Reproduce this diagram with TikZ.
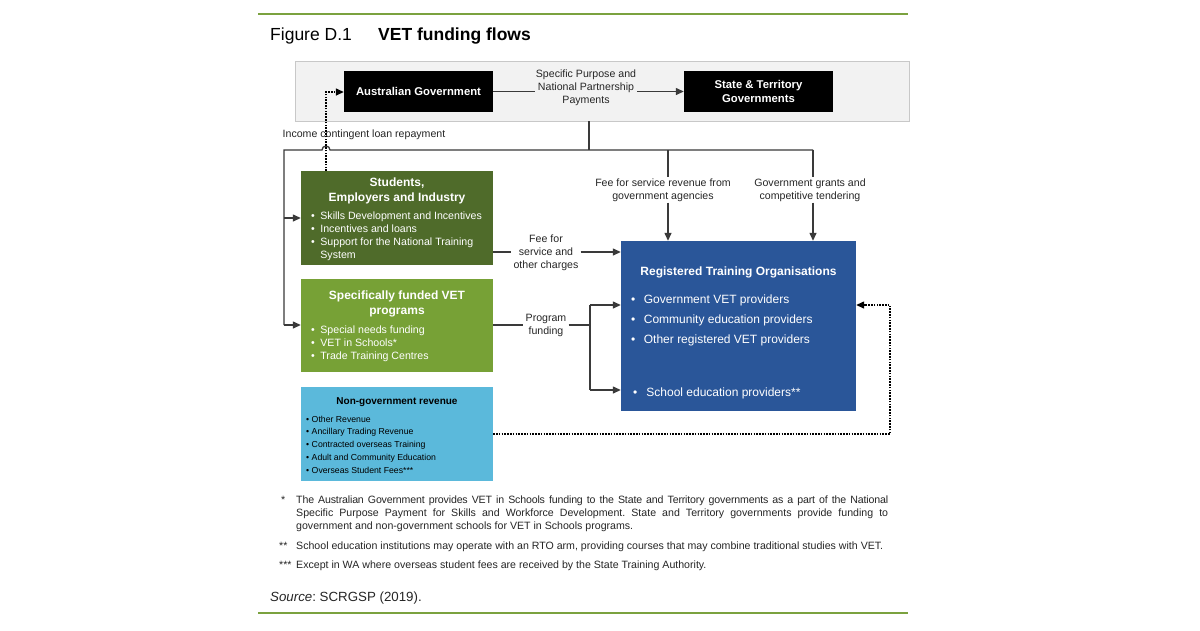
\documentclass[tikz,border=0pt]{standalone}
\usepackage{fontspec}
\setmainfont{Liberation Sans}
\usetikzlibrary{arrows.meta}
\frenchspacing
\definecolor{linec}{HTML}{3A3A3A}
\definecolor{rule}{HTML}{7BA23F}
\definecolor{greybg}{HTML}{F2F2F2}
\definecolor{greyln}{HTML}{C8C8C8}
\definecolor{dkgreen}{HTML}{4F6B2A}
\definecolor{ltgreen}{HTML}{77A136}
\definecolor{ltblue}{HTML}{5BB9DB}
\definecolor{rtoblue}{HTML}{2A5699}
\begin{document}
\begin{tikzpicture}[x=1pt,y=-1pt,
  blk/.style={fill=black, text=white, font=\fontsize{11.3}{14}\selectfont\bfseries, minimum width=149pt, minimum height=41pt, inner sep=0pt, align=center},
  boxx/.style={inner sep=0pt, draw=none},
  conn/.style={draw=linec, line width=1.3pt},
  arr/.style={conn, -{Triangle[length=8pt,width=7pt]}},
  dotl/.style={draw=black, line width=1.4pt, dash pattern=on 1.6pt off 1.2pt},
  darr/.style={dotl, -{Triangle[length=8pt,width=7pt]}},
  lbl/.style={font=\fontsize{10.6}{13}\selectfont, align=center, inner sep=1pt, text=black!85},
  ttl/.style={font=\fontsize{12}{15}\selectfont\bfseries, text=white, align=center, inner sep=0pt},
  lst/.style={anchor=base west, inner sep=0pt, text=white, font=\fontsize{10.6}{13}\selectfont},
  fn/.style={anchor=base west, inner sep=0pt, text=black!85, font=\fontsize{10.6}{13}\selectfont}
]
\useasboundingbox (0,0) rectangle (1200,630);
\fill[white] (0,0) rectangle (1200,630);
% rules
\coordinate (r1a) at (258,14); \coordinate (r1b) at (908,14);
\coordinate (r2a) at (258,613); \coordinate (r2b) at (908,613);
\draw[rule, line width=2pt] (r1a) -- (r1b);
\draw[rule, line width=2pt] (r2a) -- (r2b);
% title
\node[anchor=base west, inner sep=0pt, font=\fontsize{17.5}{20}\selectfont] (figno) at (270,40) {Figure D.1};
\node[anchor=base west, inner sep=0pt, font=\fontsize{17.5}{20}\selectfont\bfseries] (figttl) at (378,40) {VET funding flows};
% grey band
\node[fill=greybg, draw=greyln, line width=1pt, minimum width=614pt, minimum height=60pt, inner sep=0pt] (band) at (602,91) {};
\node[blk] (ag) at (418.5,91.5) {Australian Government};
\node[blk] (st) at (758.5,91.5) {State \& Territory\\Governments};
\node[lbl] (spp) at (586,88) {Specific Purpose and\\National Partnership\\Payments};
\draw[conn] (ag.east) -- (ag.east -| spp.west);
\draw[arr] (st.west -| spp.east) -- (st.west);
% boxes
\node[boxx, fill=dkgreen, minimum width=192pt, minimum height=94pt] (stu) at (397,218) {};
\node[boxx, fill=ltgreen, minimum width=192pt, minimum height=93pt] (prg) at (397,325.5) {};
\node[boxx, fill=ltblue, minimum width=192pt, minimum height=94pt] (ngr) at (397,434) {};
\node[boxx, fill=rtoblue, minimum width=235pt, minimum height=170pt] (rto) at (738.5,326) {};
% students text
\node[ttl] (stut) at (397,190.5) {Students,\\Employers and Industry};
\node[lst] (stul) at (311,219) {\begin{tabular}[t]{@{}l@{\hspace{5.5pt}}l@{}}
\textbullet & Skills Development and Incentives\\
\textbullet & Incentives and loans\\
\textbullet & Support for the National Training\\
 & System\end{tabular}};
% program text
\node[ttl] (prgt) at (397,304) {Specifically funded VET\\programs};
\node[lst] (prgl) at (311,333) {\begin{tabular}[t]{@{}l@{\hspace{5.5pt}}l@{}}
\textbullet & Special needs funding\\
\textbullet & VET in Schools*\\
\textbullet & Trade Training Centres\end{tabular}};
% non-government text
\node[anchor=base, inner sep=0pt, text=black, font=\fontsize{10}{13}\selectfont\bfseries] (ngrt) at (397,404) {Non-government revenue};
\node[lst, text=black, font=\fontsize{8.7}{12.9}\selectfont] (ngrl) at (306,422) {\begin{tabular}[t]{@{}l@{\hspace{2.5pt}}l@{}}
\textbullet & Other Revenue\\
\textbullet & Ancillary Trading Revenue\\
\textbullet & Contracted overseas Training\\
\textbullet & Adult and Community Education\\
\textbullet & Overseas Student Fees***\end{tabular}};
% RTO text
\node[anchor=base, inner sep=0pt, text=white, font=\fontsize{12}{14}\selectfont\bfseries] (rtot) at (738.5,275) {Registered Training Organisations};
\node[lst, font=\fontsize{12}{20}\selectfont] (rtol) at (631,303) {\begin{tabular}[t]{@{}l@{\hspace{8.5pt}}l@{}}
\textbullet & Government VET providers\\
\textbullet & Community education providers\\
\textbullet & Other registered VET providers\end{tabular}};
\node[lst, font=\fontsize{12}{14}\selectfont] (rtos) at (633,396) {\textbullet\hspace{9pt}School education providers**};
% labels
\node[lbl] (inc) at (364,135) {Income contingent loan repayment};
\node[lbl] (ffa) at (663,190) {Fee for service revenue from\\government agencies};
\node[lbl] (ggt) at (810,190) {Government grants and\\competitive tendering};
\node[lbl, inner sep=2pt] (ffs) at (546,253) {Fee for\\service and\\other charges};
\node[lbl, inner sep=2pt] (pf) at (546,325) {Program\\funding};
% trunk
\coordinate (t0) at (589,121);
\coordinate (t1) at (589,150);
\coordinate (tl) at (284,150);
\coordinate (tr) at (813,150);
\coordinate (tm) at (668,150);
\coordinate (tstu) at (284,218);
\coordinate (tprg) at (284,325);
\draw[conn] (t0) -- (t1);
\draw[conn] (tr) -- (330,150) arc[start angle=0, end angle=-180, radius=4] -- (tl) -- (tprg);
\draw[arr] (tprg) -- (tprg -| prg.west);
\draw[arr] (tstu) -- (tstu -| stu.west);
\draw[conn] (tm) -- (tm |- ffa.north);
\draw[arr] (tm |- ffa.south) -- (tm |- rto.north);
\draw[conn] (tr) -- (tr |- ggt.north);
\draw[arr] (tr |- ggt.south) -- (tr |- rto.north);
% students -> RTO
\coordinate (sa) at (493,252);
\draw[conn] (sa) -- (sa -| ffs.west);
\draw[arr] (sa -| ffs.east) -- (sa -| rto.west);
% program -> RTO
\coordinate (pa) at (493,325);
\coordinate (pj1) at (590,305);
\coordinate (pj2) at (590,390);
\draw[conn] (pa) -- (pa -| pf.west);
\draw[conn] (pa -| pf.east) -- (pa -| pj1);
\draw[conn] (pj1) -- (pj2);
\draw[arr] (pj1) -- (pj1 -| rto.west);
\draw[arr] (pj2) -- (pj2 -| rto.west);
% dotted
\coordinate (d1) at (890,434);
\coordinate (d2) at (890,305);
\draw[darr] (ngr.east |- d1) -- (d1) -- (d2) -- (d2 -| rto.east);
\coordinate (u1) at (326,171);
\coordinate (u2) at (326,92);
\draw[darr] (u1) -- (u2) -- (u2 -| ag.west);
% footnotes
\node[fn] (m1) at (281,503) {*};
\node[fn, text width=592pt, align=justify] (f1) at (296,503) {{\addfontfeature{LetterSpace=-1.5}The Australian Government provides VET in Schools funding to the State and Territory governments as a part of the National}\linebreak Specific Purpose Payment for Skills and Workforce Development. State and Territory governments provide funding to\linebreak government and non-government schools for VET in Schools programs.};
\node[fn] (m2) at (279,549) {**};
\node[fn] (f2) at (296,549) {School education institutions may operate with an RTO arm, providing courses that may combine traditional studies with VET.};
\node[fn] (m3) at (279,568) {***};
\node[fn] (f3) at (296,568) {Except in WA where overseas student fees are received by the State Training Authority.};
\node[anchor=base west, inner sep=0pt, font=\fontsize{13.3}{15}\selectfont, text=black!85] (src) at (270,601) {\textit{Source}: SCRGSP (2019).};
\end{tikzpicture}
\end{document}
